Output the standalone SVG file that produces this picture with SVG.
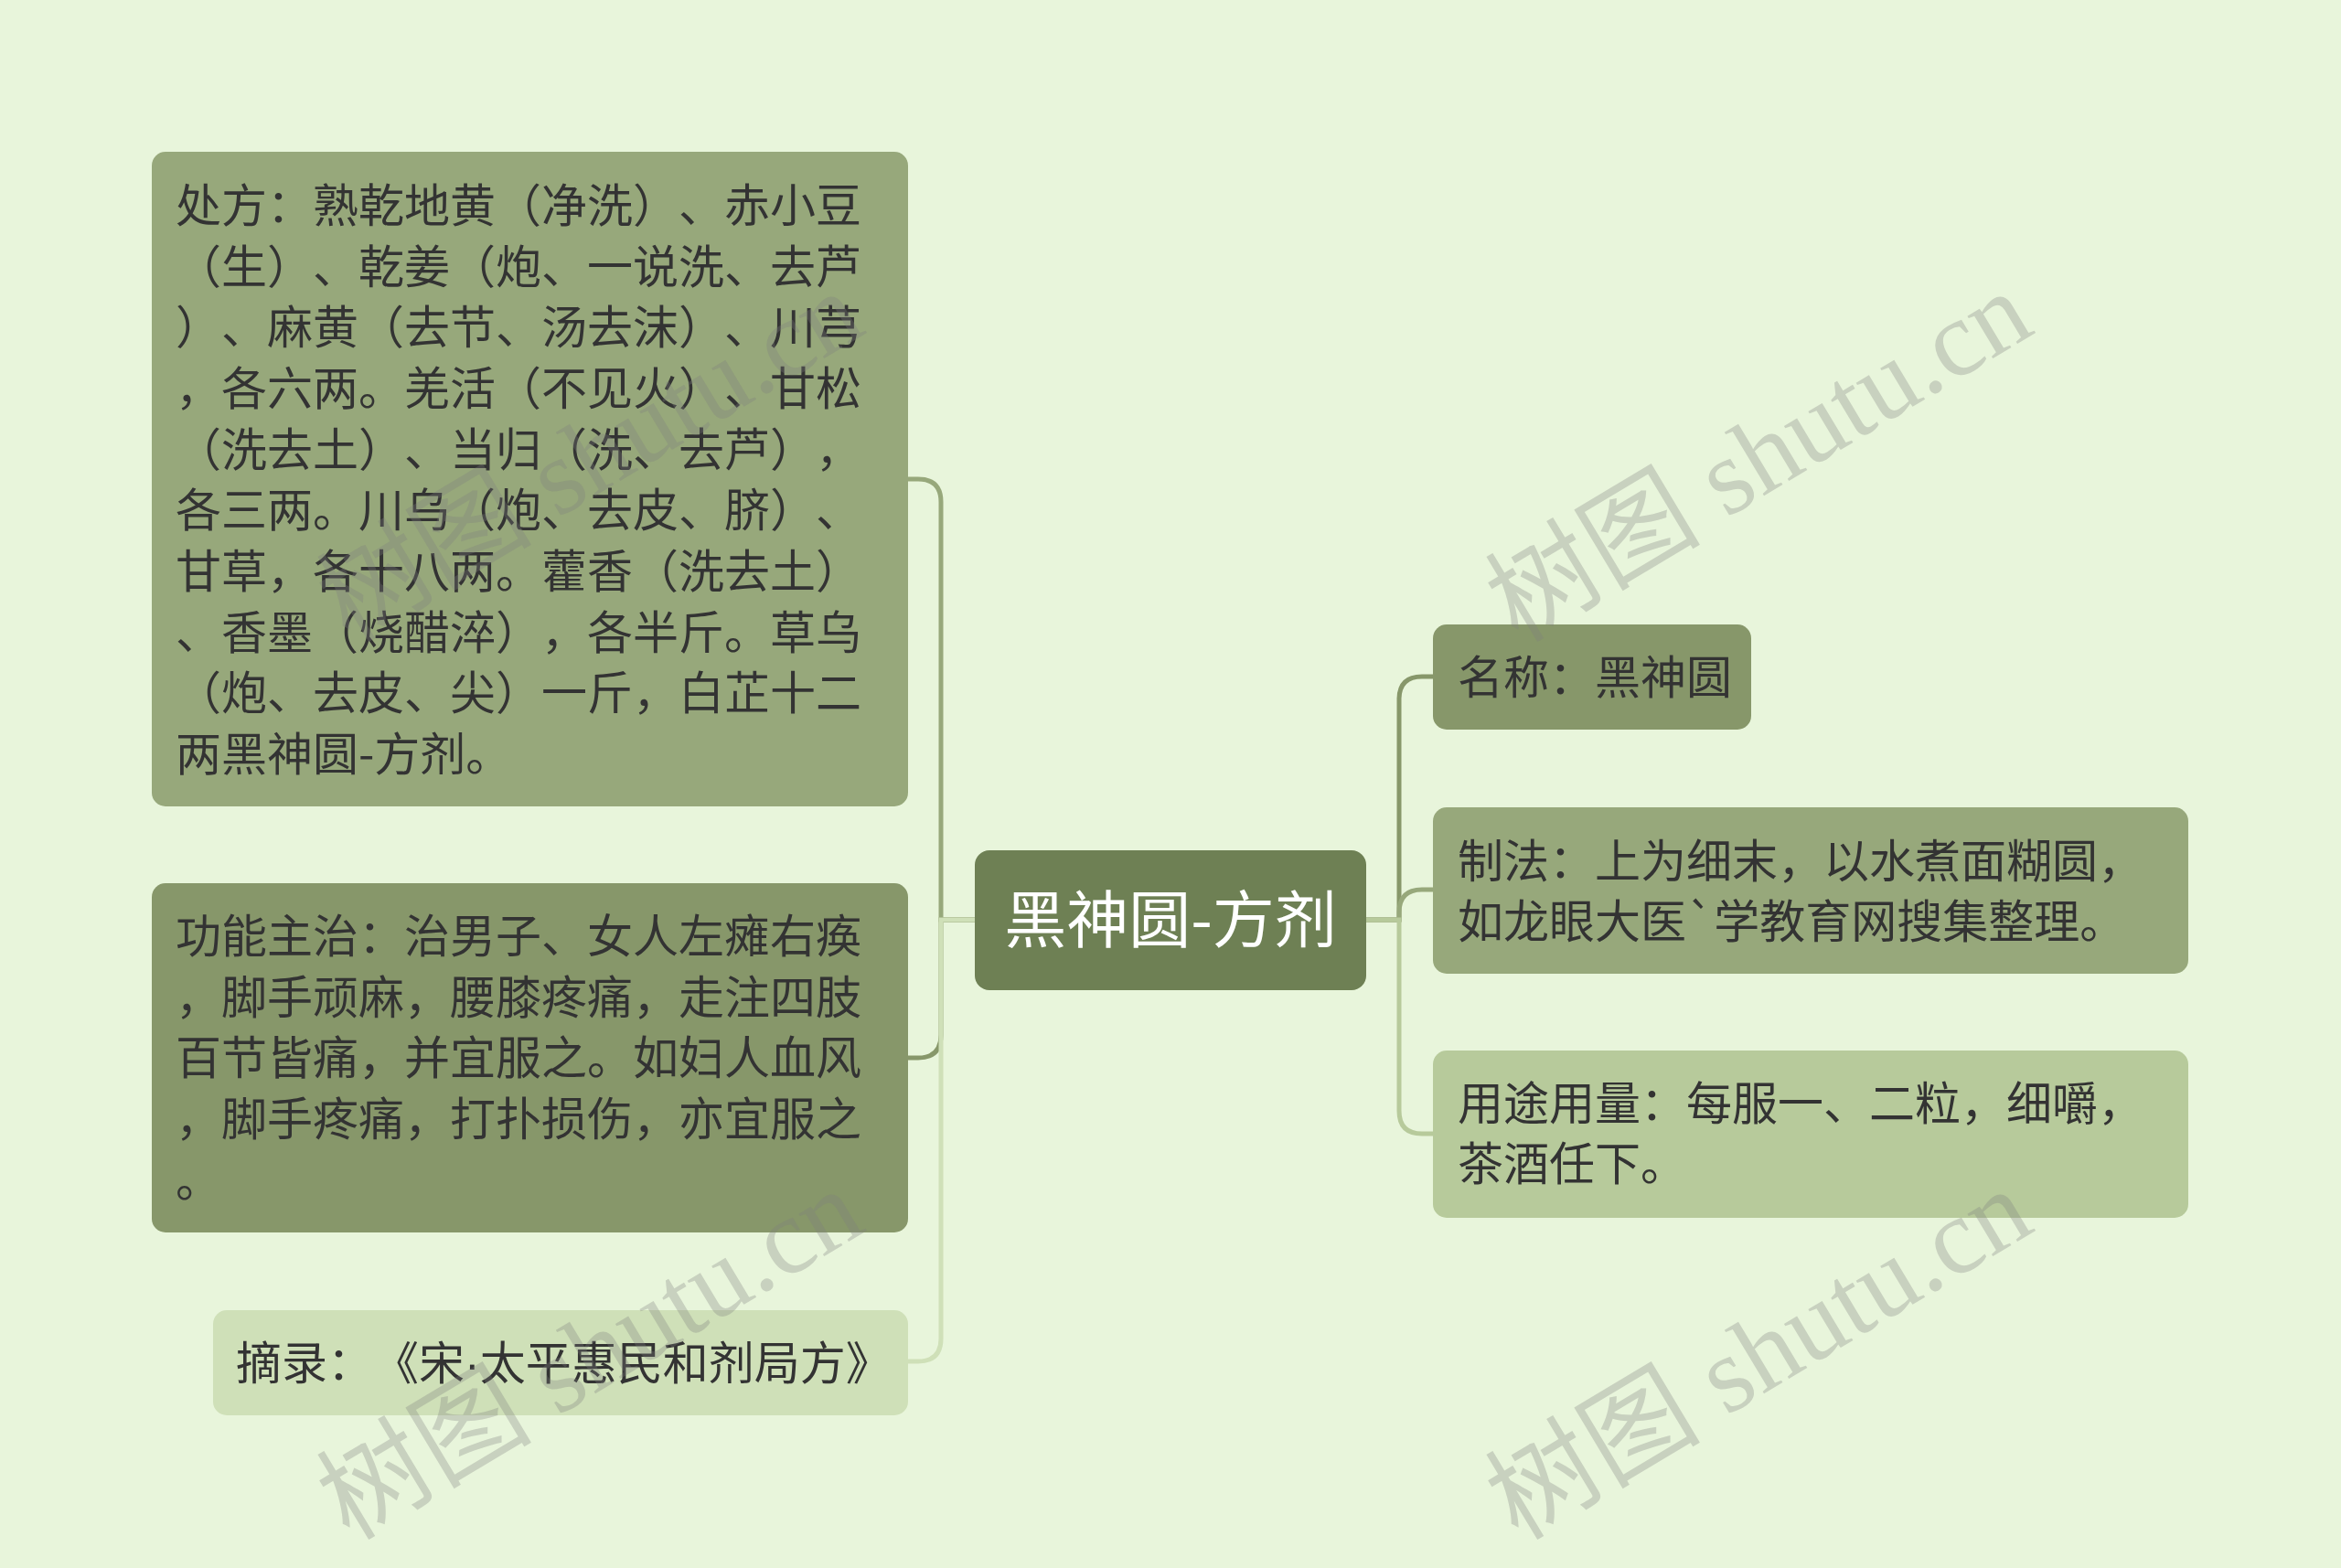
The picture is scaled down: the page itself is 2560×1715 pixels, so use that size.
<svg xmlns="http://www.w3.org/2000/svg" width="2560" height="1715" viewBox="0 0 2560 1715">
<style>
text{text-spacing-trim:space-all;font-kerning:none}
.t{font-family:"Noto Sans CJK SC","Noto Sans",sans-serif;font-size:50px;fill:#333333}
.c{font-family:"Noto Sans CJK SC","Noto Sans",sans-serif;font-size:68px;fill:#ffffff}
.d{font-family:"Liberation Sans",sans-serif}
.wm{font-family:"Liberation Serif","Noto Sans CJK SC",serif;font-size:118px;fill:#7f7f7f;fill-opacity:0.3}
.ln{fill:none;stroke-width:5}
</style>
<rect x="0" y="0" width="2560" height="1715" fill="#e8f5db"/>
<g id="connectors">
<path class="ln" stroke="#97a87b" d="M1066,1006 H1029 V549 Q1029,524 1004,524 H993"/>
<path class="ln" stroke="#87976a" d="M1066,1006 H1029 V1132 Q1029,1157 1004,1157 H993"/>
<path class="ln" stroke="#cfe0b8" d="M1066,1006 H1029 V1464 Q1029,1489 1004,1489 H993"/>
<path class="ln" stroke="#87976a" d="M1494,1006 H1530 V765 Q1530,740 1555,740 H1567"/>
<path class="ln" stroke="#97a87b" d="M1494,1006 H1530 V998 Q1530,973 1555,973 H1567"/>
<path class="ln" stroke="#b7ca9b" d="M1494,1006 H1530 V1215 Q1530,1240 1555,1240 H1567"/>
</g>
<g id="center">
<rect x="1066" y="930" width="428" height="153" rx="16" fill="#6e8054"/>
<text class="c" x="1280" y="1031" text-anchor="middle">黑神圆-方剂</text>
</g>
<g id="node-chufang">
<rect x="166" y="166" width="827" height="716" rx="15" fill="#97a87b"/>
<text class="t">
<tspan x="192" y="243">处方：熟乾地黄（净洗）、赤小豆</tspan>
<tspan x="192" y="310">（生）、乾姜（炮、一说洗、去芦</tspan>
<tspan x="192" y="376">）、麻黄（去节、汤去沫）、川芎</tspan>
<tspan x="192" y="443">，各六两。羌活（不见火）、甘松</tspan>
<tspan x="192" y="510">（洗去土）、当归（洗、去芦），</tspan>
<tspan x="192" y="576">各三两。川乌（炮、去皮、脐）、</tspan>
<tspan x="192" y="643">甘草，各十八两。藿香（洗去土）</tspan>
<tspan x="192" y="710">、香墨（烧醋淬），各半斤。草乌</tspan>
<tspan x="192" y="776">（炮、去皮、尖）一斤，白芷十二</tspan>
<tspan x="192" y="843">两黑神圆-方剂。</tspan>
</text>
</g>
<g id="node-gongneng">
<rect x="166" y="966" width="827" height="382" rx="15" fill="#87976a"/>
<text class="t">
<tspan x="192" y="1042">功能主治：治男子、女人左瘫右痪</tspan>
<tspan x="192" y="1109">，脚手顽麻，腰膝疼痛，走注四肢</tspan>
<tspan x="192" y="1175">百节皆痛，并宜服之。如妇人血风</tspan>
<tspan x="192" y="1242">，脚手疼痛，打扑损伤，亦宜服之</tspan>
<tspan x="192" y="1309">。</tspan>
</text>
</g>
<g id="node-zhailu">
<rect x="233" y="1433" width="760" height="115" rx="15" fill="#cfe0b8"/>
<text class="t" x="258" y="1509">摘录：《宋<tspan class="d">·</tspan>太平惠民和剂局方》</text>
</g>
<g id="node-mingcheng">
<rect x="1567" y="683" width="348" height="115" rx="15" fill="#87976a"/>
<text class="t" x="1594" y="759">名称：黑神圆</text>
</g>
<g id="node-zhifa">
<rect x="1567" y="883" width="826" height="182" rx="15" fill="#97a87b"/>
<text class="t">
<tspan x="1594" y="960">制法：上为细末，以水煮面糊圆，</tspan>
<tspan x="1594" y="1026">如龙眼大医`学教育网搜集整理。</tspan>
</text>
</g>
<g id="node-yongtu">
<rect x="1567" y="1149" width="826" height="183" rx="15" fill="#b7ca9b"/>
<text class="t">
<tspan x="1594" y="1225">用途用量：每服一、二粒，细嚼，</tspan>
<tspan x="1594" y="1291">茶酒任下。</tspan>
</text>
</g>
<g id="watermarks">
<text class="wm" transform="translate(382,704) rotate(-31)">树图 shutu.cn</text>
<text class="wm" transform="translate(1660,704) rotate(-31)">树图 shutu.cn</text>
<text class="wm" transform="translate(382,1686) rotate(-31)">树图 shutu.cn</text>
<text class="wm" transform="translate(1660,1686) rotate(-31)">树图 shutu.cn</text>
</g>
</svg>
